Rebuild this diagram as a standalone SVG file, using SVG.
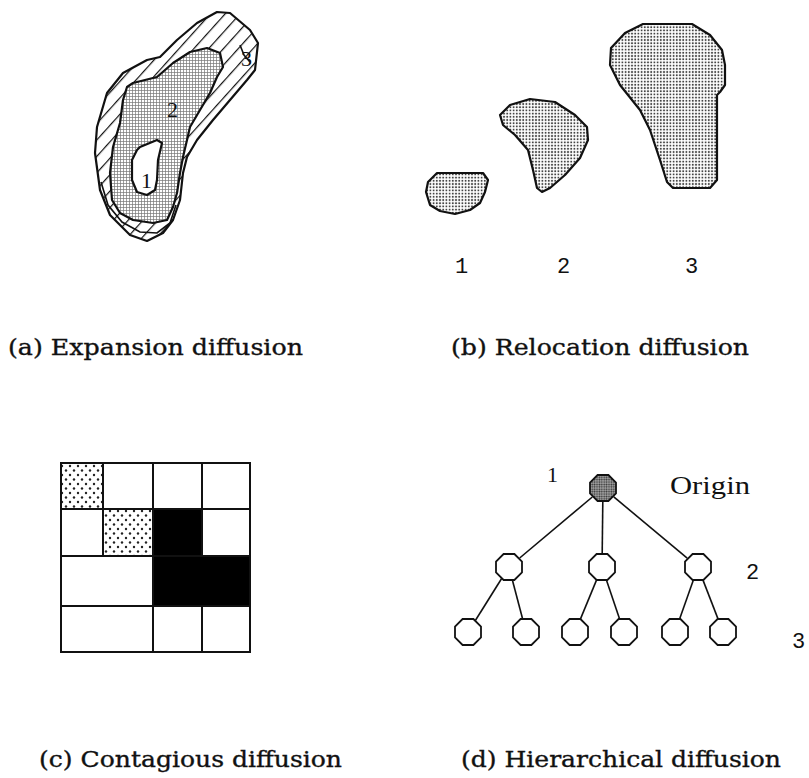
<svg xmlns="http://www.w3.org/2000/svg" width="809" height="778" viewBox="0 0 809 778">
<defs>
<pattern id="dots" patternUnits="userSpaceOnUse" width="3.2" height="3.2">
<rect width="3.2" height="3.2" fill="#ffffff"/>
<circle cx="1.6" cy="1.6" r="1" fill="#444"/>
</pattern>
<pattern id="grid" patternUnits="userSpaceOnUse" width="3" height="3">
<rect width="3" height="3" fill="#ffffff"/>
<rect x="0" y="0" width="3" height="0.7" fill="#777"/>
<rect x="0" y="0" width="0.7" height="3" fill="#777"/>
</pattern>
<pattern id="dense" patternUnits="userSpaceOnUse" width="2.4" height="2.4">
<rect width="2.4" height="2.4" fill="#aaa"/>
<circle cx="1.2" cy="1.2" r="0.9" fill="#333"/>
</pattern>
<pattern id="sparse" patternUnits="userSpaceOnUse" width="8" height="9">
<rect width="8" height="9" fill="#ffffff"/>
<circle cx="2" cy="2.5" r="1.2" fill="#222"/>
<circle cx="6" cy="7" r="1.2" fill="#222"/>
</pattern>
<pattern id="hatch" patternUnits="userSpaceOnUse" width="11" height="11" patternTransform="rotate(-48)">
<rect width="11" height="11" fill="#ffffff"/>
<line x1="0" y1="0.5" x2="11" y2="0.5" stroke="#111" stroke-width="1.4"/>
</pattern>
<polygon id="oct" points="5.4,-13 13,-5.4 13,5.4 5.4,13 -5.4,13 -13,5.4 -13,-5.4 -5.4,-13"/>
</defs>
<style>
.cap{font-family:"DejaVu Serif","Liberation Serif",serif;font-size:22px;fill:#111;stroke:#111;stroke-width:0.35}
.num{font-family:"Liberation Mono","DejaVu Sans Mono",monospace;font-size:22px;fill:#111}
.lab{font-family:"Liberation Serif","DejaVu Serif",serif;font-size:22px;fill:#111}
.blob{stroke:#111;stroke-width:2.2;stroke-linejoin:round}
.cell{fill:#fff;stroke:#111;stroke-width:2}
.node{fill:#fff;stroke:#111;stroke-width:1.8}
.edge{stroke:#111;stroke-width:1.6;fill:none}
</style>
<rect width="809" height="778" fill="#ffffff"/>

<!-- (a) Expansion diffusion -->
<g id="panel-a">
<polygon class="blob" fill="url(#hatch)" points="217,12 230,13 250,30 258,43 255,70 247,80 230,100 213,120 197,140 187,157 183,173 180,200 173,220 163,233 147,241 130,235 110,215 100,190 95,153 97,127 107,93 123,73 147,60 160,57 177,40 197,23"/>
<polyline class="edge" points="101,182 108,205 122,222 140,232 157,233 170,223 176,205"/>
<polyline class="edge" points="240,45 244,55 250,62"/>
<polygon class="blob" fill="url(#grid)" points="127,87 133,83 157,77 173,63 190,52 207,48 220,53 223,67 217,77 210,93 200,110 190,127 187,140 183,157 180,173 177,193 173,207 167,220 153,223 133,220 120,213 112,200 110,173 113,147 120,123 123,100"/>
<polygon class="blob" fill="#ffffff" points="140,147 157,140 162,143 158,160 157,180 155,190 147,195 137,192 132,180 132,160 137,150"/>
<text class="lab" x="141" y="188">1</text>
<text class="lab" x="167" y="117">2</text>
<text class="lab" x="241" y="66">3</text>
<text class="cap" x="8" y="355" textLength="295" lengthAdjust="spacingAndGlyphs">(a) Expansion diffusion</text>
</g>

<!-- (b) Relocation diffusion -->
<g id="panel-b">
<polygon class="blob" fill="url(#dots)" points="437,173 483,173 488,180 485,192 480,203 470,210 455,214 440,211 430,205 426,192 428,182"/>
<polygon class="blob" fill="url(#dots)" points="500,115 510,105 530,99 555,102 575,115 587,127 588,140 580,158 565,175 550,188 542,192 537,188 533,170 528,150 515,135 503,125"/>
<polygon class="blob" fill="url(#dots)" points="643,24 692,24 710,35 722,50 725,65 725,85 720,92 717,95 717,180 710,188 673,188 667,182 660,160 650,130 640,110 620,85 610,65 611,48 625,33"/>
<text class="num" x="455" y="273">1</text>
<text class="num" x="557" y="273">2</text>
<text class="num" x="685" y="273">3</text>
<text class="cap" x="451" y="355" textLength="298" lengthAdjust="spacingAndGlyphs">(b) Relocation diffusion</text>
</g>

<!-- (c) Contagious diffusion -->
<g id="panel-c">
<rect class="cell" x="61" y="463" width="42" height="46" style="fill:url(#sparse)"/>
<rect class="cell" x="103" y="463" width="50" height="46"/>
<rect class="cell" x="153" y="463" width="49" height="46"/>
<rect class="cell" x="202" y="463" width="48" height="46"/>
<rect class="cell" x="61" y="509" width="42" height="47"/>
<rect class="cell" x="103" y="509" width="50" height="47" style="fill:url(#sparse)"/>
<rect class="cell" x="153" y="509" width="49" height="47" style="fill:#000"/>
<rect class="cell" x="202" y="509" width="48" height="47"/>
<rect class="cell" x="61" y="556" width="92" height="50"/>
<rect class="cell" x="153" y="556" width="97" height="50" style="fill:#000"/>
<rect class="cell" x="61" y="606" width="92" height="46"/>
<rect class="cell" x="153" y="606" width="49" height="46"/>
<rect class="cell" x="202" y="606" width="48" height="46"/>
<text class="cap" x="39" y="767" textLength="303" lengthAdjust="spacingAndGlyphs">(c) Contagious diffusion</text>
</g>

<!-- (d) Hierarchical diffusion -->
<g id="connectors">
<line class="edge" x1="592.3" y1="497" x2="519.7" y2="558"/>
<line class="edge" x1="602.8" y1="502" x2="602.2" y2="553"/>
<line class="edge" x1="613.8" y1="496.9" x2="687.2" y2="558.1"/>
<line class="edge" x1="501.5" y1="578.8" x2="475.5" y2="620.2"/>
<line class="edge" x1="512.5" y1="580.5" x2="522.5" y2="618.5"/>
<line class="edge" x1="596.6" y1="579.9" x2="580.4" y2="619.1"/>
<line class="edge" x1="606.5" y1="580.3" x2="619.5" y2="618.7"/>
<line class="edge" x1="693.3" y1="580.2" x2="679.7" y2="618.8"/>
<line class="edge" x1="703" y1="580.1" x2="718" y2="618.9"/>
</g>
<g id="node-origin"><use href="#oct" x="603" y="488" class="node" style="fill:url(#dense)"/></g>
<g id="node-2a"><use href="#oct" x="509" y="567" class="node"/></g>
<g id="node-2b"><use href="#oct" x="602" y="567" class="node"/></g>
<g id="node-2c"><use href="#oct" x="698" y="567" class="node"/></g>
<g id="node-3a"><use href="#oct" x="468" y="632" class="node"/></g>
<g id="node-3b"><use href="#oct" x="526" y="632" class="node"/></g>
<g id="node-3c"><use href="#oct" x="575" y="632" class="node"/></g>
<g id="node-3d"><use href="#oct" x="624" y="632" class="node"/></g>
<g id="node-3e"><use href="#oct" x="675" y="632" class="node"/></g>
<g id="node-3f"><use href="#oct" x="723" y="632" class="node"/></g>
<g id="labels-d">
<text class="lab" x="547" y="482">1</text>
<text x="670" y="494" font-family="Liberation Serif, serif" font-size="25" fill="#111" textLength="80" lengthAdjust="spacingAndGlyphs">Origin</text>
<text class="num" x="746" y="579">2</text>
<text class="num" x="792" y="648">3</text>
<text class="cap" x="461" y="767" textLength="320" lengthAdjust="spacingAndGlyphs">(d) Hierarchical diffusion</text>
</g>
</svg>
